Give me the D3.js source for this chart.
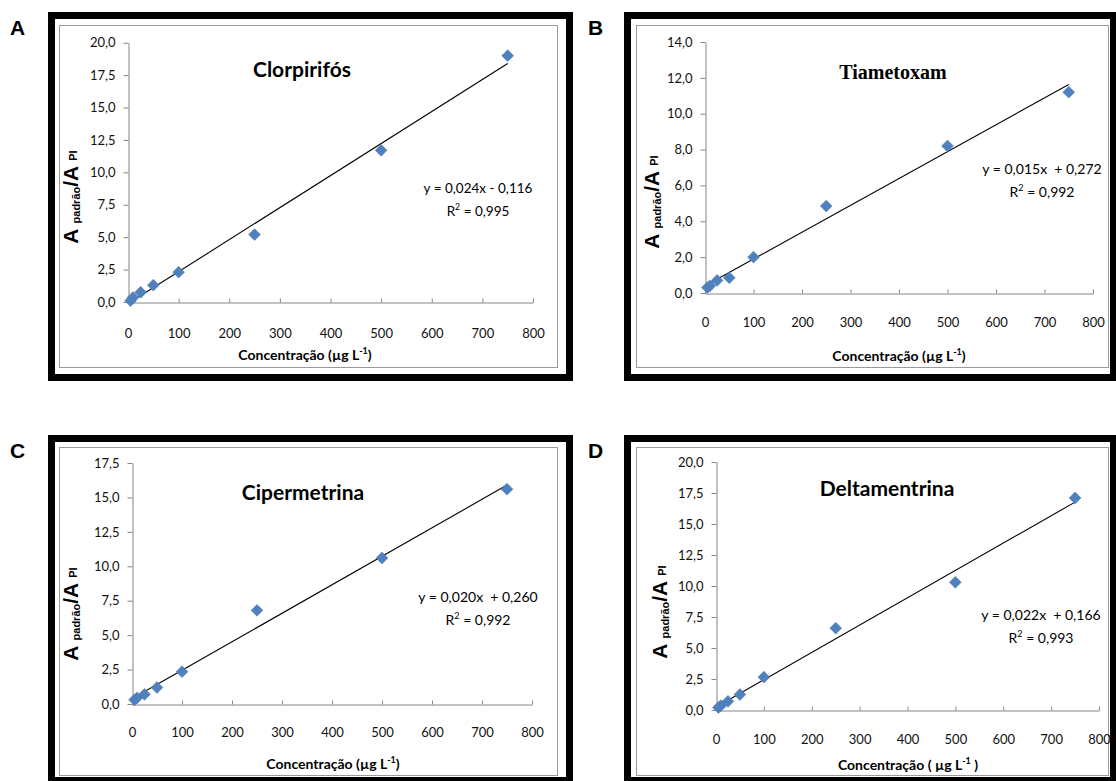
<!DOCTYPE html>
<html>
<head>
<meta charset="utf-8">
<script src="https://cdn.jsdelivr.net/npm/d3@7"></script>
<style>
  body { margin: 0; background: #fff; }
  svg { display: block; }
</style>
</head>
<body>
<div id="chart"></div>
<script>
// data
var xConc = [5, 10, 25, 50, 100, 250, 500, 750];
var yClorpirifos = [0.1, 0.35, 0.75, 1.3, 2.3, 5.2, 11.7, 19.0];
var yTiametoxam = [0.3, 0.4, 0.7, 0.85, 2.0, 4.85, 8.2, 11.2];
var yCipermetrina = [0.3, 0.45, 0.7, 1.2, 2.35, 6.8, 10.6, 15.6];
var yDeltametrina = [0.2, 0.35, 0.7, 1.25, 2.65, 6.6, 10.3, 17.1];

var xTicks = [0, 100, 200, 300, 400, 500, 600, 700, 800];
var yTicksA = [0, 2.5, 5, 7.5, 10, 12.5, 15, 17.5, 20];
var yTicksB = [0, 2, 4, 6, 8, 10, 12, 14];
var yTicksC = [0, 2.5, 5, 7.5, 10, 12.5, 15, 17.5];
var yTicksD = [0, 2.5, 5, 7.5, 10, 12.5, 15, 17.5, 20];

var letters = ["A", "B", "C", "D"];
var titles = ["Clorpirifós", "Tiametoxam", "Cipermetrina", "Deltamentrina"];
var equations = ["y = 0,024x - 0,116", "y = 0,015x  + 0,272", "y = 0,020x  + 0,260", "y = 0,022x  + 0,166"];
var r2Values = ["0,995", "0,992", "0,992", "0,993"];

function init(){

    var W = 1116, H = 781;
    var sansFont = "Lato, 'Open Sans', sans-serif";

    var svg = d3.select("#chart")
                .append("svg")
                .attr("width", W)
                .attr("height", H);

    svg.append("rect").attr("width", W).attr("height", H).attr("fill", "#fff");

    // layout of each panel (pixels)
    var panels = [
        { ys: yClorpirifos, yTicks: yTicksA, yMax: 20,
          frame: [48, 12, 573, 381], inner: [59, 25, 557, 367],
          x0: 128, x1: 533, y0: 302, y1: 42.7,
          letterPos: [10, 35],
          titlePos: [302, 77], titleFont: sansFont, titleSize: 21,
          eqPos: [478, 193], eqSize: 13.5,
          xlabPos: [305, 360], xlabText: "Concentração (µg L", xlabEnd: ")",
          ylabPos: [78, 197], xPad: 26 },
        { ys: yTiametoxam, yTicks: yTicksB, yMax: 14,
          frame: [624, 12, 1117, 381], inner: [636, 25, 1108, 367],
          x0: 705, x1: 1093, y0: 293, y1: 42,
          letterPos: [588, 35],
          titlePos: [893, 79], titleFont: "'Liberation Serif', 'Times New Roman', serif", titleSize: 20,
          eqPos: [1042, 174], eqSize: 14,
          xlabPos: [899, 361], xlabText: "Concentração (µg L", xlabEnd: ")",
          ylabPos: [659, 202], xPad: 24 },
        { ys: yCipermetrina, yTicks: yTicksC, yMax: 17.5,
          frame: [48, 435, 573, 784], inner: [59, 447, 557, 775],
          x0: 132, x1: 532, y0: 704, y1: 463,
          letterPos: [10, 458],
          titlePos: [303, 500], titleFont: sansFont, titleSize: 21,
          eqPos: [478, 602], eqSize: 14,
          xlabPos: [333, 769], xlabText: "Concentração (µg L", xlabEnd: ")",
          ylabPos: [78, 614], xPad: 23 },
        { ys: yDeltametrina, yTicks: yTicksD, yMax: 20,
          frame: [624, 435, 1117, 784], inner: [636, 447, 1108, 775],
          x0: 716, x1: 1099, y0: 710, y1: 462,
          letterPos: [588, 458],
          titlePos: [887, 496], titleFont: sansFont, titleSize: 21,
          eqPos: [1041, 620], eqSize: 14,
          xlabPos: [908, 770], xlabText: "Concentração ( µg L", xlabEnd: " )",
          ylabPos: [667, 612], xPad: 24 }
    ];

    var fmt = function(d){ return d3.format(".1f")(d).replace(".", ","); };

    panels.forEach(function(p, i){

        var g = svg.append("g");

        // thick outer frame + thin gray inner border
        var fw = 7;
        g.append("rect")
            .attr("x", p.frame[0] + fw / 2)
            .attr("y", p.frame[1] + fw / 2)
            .attr("width", p.frame[2] - p.frame[0] - fw)
            .attr("height", p.frame[3] - p.frame[1] - fw)
            .attr("fill", "#fff")
            .attr("stroke", "#000")
            .attr("stroke-width", fw);

        g.append("rect")
            .attr("x", p.inner[0] + 0.5)
            .attr("y", p.inner[1] + 0.5)
            .attr("width", p.inner[2] - p.inner[0])
            .attr("height", p.inner[3] - p.inner[1])
            .attr("fill", "none")
            .attr("stroke", "#9a9a9a")
            .attr("stroke-width", 1);

        // panel letter
        svg.append("text")
            .attr("x", p.letterPos[0])
            .attr("y", p.letterPos[1])
            .attr("font-family", "'Liberation Sans', Arial, sans-serif")
            .attr("font-weight", "bold")
            .attr("font-size", 21)
            .attr("fill", "#000")
            .text(letters[i]);

        var xScale = d3.scaleLinear().domain([0, 800]).range([p.x0, p.x1]);
        var yScale = d3.scaleLinear().domain([0, p.yMax]).range([p.y0, p.y1]);

        // axes
        var yAxis = d3.axisLeft(yScale)
                    .tickValues(p.yTicks)
                    .tickFormat(fmt)
                    .tickSizeInner(5)
                    .tickSizeOuter(0)
                    .tickPadding(8);

        var xAxis = d3.axisBottom(xScale)
                    .tickValues(xTicks)
                    .tickFormat(d3.format("d"))
                    .tickSizeInner(-4)
                    .tickSizeOuter(0)
                    .tickPadding(p.xPad);

        var gy = g.append("g")
                .attr("transform", "translate(" + (Math.round(p.x0) + 0.5) + ",0)")
                .call(yAxis);

        var gx = g.append("g")
                .attr("transform", "translate(0," + (Math.round(p.y0) + 0.5) + ")")
                .call(xAxis);

        [gx, gy].forEach(function(ax){
            ax.select(".domain").attr("stroke", "#868686");
            ax.selectAll(".tick line").attr("stroke", "#868686");
            ax.selectAll(".tick text")
                .attr("fill", "#111")
                .attr("font-family", sansFont)
                .attr("font-size", 13);
        });

        // trend line (least squares on the points)
        var mx = d3.mean(xConc), my = d3.mean(p.ys);
        var sxy = d3.sum(xConc, function(x, k){ return (x - mx) * (p.ys[k] - my); });
        var sxx = d3.sum(xConc, function(x){ return (x - mx) * (x - mx); });
        var slope = sxy / sxx;
        var icpt = my - slope * mx;
        var xmin = d3.min(xConc), xmax = d3.max(xConc);

        g.append("line")
            .attr("x1", xScale(xmin))
            .attr("y1", yScale(icpt + slope * xmin))
            .attr("x2", xScale(xmax))
            .attr("y2", yScale(icpt + slope * xmax))
            .attr("stroke", "#000")
            .attr("stroke-width", 1.1);

        // diamond markers
        var pts = xConc.map(function(x, k){ return [x, p.ys[k]]; });
        g.selectAll("path.pt")
            .data(pts)
            .enter()
            .append("path")
                .attr("class", "pt")
                .attr("d", d3.symbol().type(d3.symbolSquare).size(70))
                .attr("transform", function(d){
                    return "translate(" + xScale(d[0]) + "," + yScale(d[1]) + ") rotate(45)";
                })
                .attr("fill", "#4f81bd")
                .attr("stroke", "#4a7ab5")
                .attr("stroke-width", 0.5);

        // title
        g.append("text")
            .attr("x", p.titlePos[0])
            .attr("y", p.titlePos[1])
            .attr("text-anchor", "middle")
            .attr("font-family", p.titleFont)
            .attr("font-weight", "bold")
            .attr("font-size", p.titleSize)
            .attr("fill", "#000")
            .text(titles[i]);

        // equation + R2
        g.append("text")
            .attr("x", p.eqPos[0])
            .attr("y", p.eqPos[1])
            .attr("text-anchor", "middle")
            .attr("font-family", sansFont)
            .attr("font-size", p.eqSize)
            .attr("fill", "#000")
            .style("white-space", "pre")
            .text(equations[i]);

        var r2 = g.append("text")
            .attr("x", p.eqPos[0])
            .attr("y", p.eqPos[1] + 23)
            .attr("text-anchor", "middle")
            .attr("font-family", sansFont)
            .attr("font-size", p.eqSize)
            .attr("fill", "#000");
        r2.append("tspan").text("R");
        r2.append("tspan").attr("font-size", p.eqSize * 0.65).attr("dy", -6).text("2");
        r2.append("tspan").attr("dy", 6).text(" = " + r2Values[i]);

        // x axis label
        var xl = g.append("text")
            .attr("x", p.xlabPos[0])
            .attr("y", p.xlabPos[1])
            .attr("text-anchor", "middle")
            .attr("font-family", sansFont)
            .attr("font-weight", "bold")
            .attr("font-size", 14)
            .attr("fill", "#000")
            .style("white-space", "pre");
        xl.append("tspan").text(p.xlabText);
        xl.append("tspan").attr("font-size", 9).attr("dy", -6).text("-1");
        xl.append("tspan").attr("dy", 6).text(p.xlabEnd);

        // y axis label, rotated
        var yl = g.append("text")
            .attr("transform", "translate(" + p.ylabPos[0] + "," + p.ylabPos[1] + ") rotate(-90)")
            .attr("text-anchor", "middle")
            .attr("font-family", "'Liberation Sans', Arial, sans-serif")
            .attr("font-weight", "bold")
            .attr("font-size", 21)
            .attr("fill", "#000");
        yl.append("tspan").text("A ");
        yl.append("tspan").attr("font-size", 11).attr("dy", 2).text("padrão");
        yl.append("tspan").attr("dy", -2).text("/A ");
        yl.append("tspan").attr("font-size", 11).attr("dy", -1).text("PI");
    });
}
window.onload = init;
</script>
</body>
</html>
